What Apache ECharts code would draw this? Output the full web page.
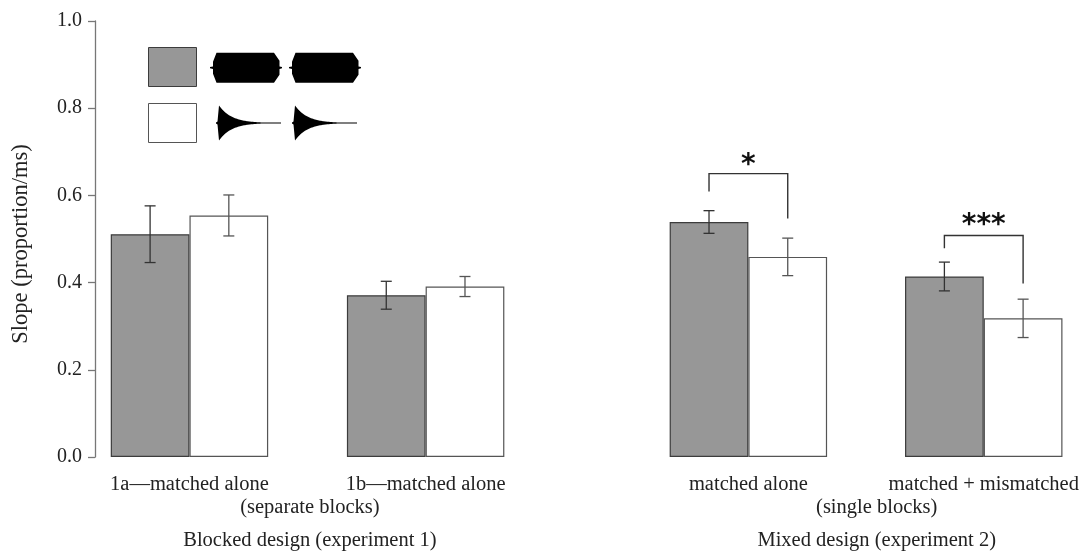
<!DOCTYPE html>
<html><head><meta charset="utf-8">
<script src="https://cdn.jsdelivr.net/npm/echarts@6/dist/echarts.min.js"></script>
<style>html,body{margin:0;padding:0;background:#fff}#c{width:1082px;height:551px}</style>
</head><body><div id="c"></div>
<script>
// ---- data ----
const groups = ['1a\u2014matched alone', '1b\u2014matched alone', 'matched alone', 'matched + mismatched'];
const blockLabels = ['(separate blocks)', '(single blocks)'];
const designLabels = ['Blocked design (experiment 1)', 'Mixed design (experiment 2)'];
const flatMean = [0.511, 0.371, 0.539, 0.414];
const flatErr = [0.065, 0.032, 0.026, 0.033];
const decayMean = [0.554, 0.391, 0.459, 0.318];
const decayErr = [0.047, 0.023, 0.043, 0.044];
const sigGroups = [2, 3];
const sigMarks = ['*', '***'];

// ---- layout ----
const GRID = {left: 95, right: 3, top: 21, bottom: 94};
const XMAX = 12.5;
const groupX = [1.2, 4.2, 8.3, 11.29];
const blockX = [2.73, 9.93];
const sigBracket = [[0.650, 0.609, 0.547], [0.508, 0.479, 0.398]];
const sigStarY = [0.669, 0.531];
const unitPx = (1082 - GRID.left - GRID.right) / XMAX;
const HALF = 0.5;
const SERIF = 'Liberation Serif';
const TXT = '#222';

function labelAxis(values, texts, margin) {
  return {
    type: 'value', min: 0, max: XMAX, position: 'bottom', gridIndex: 0,
    axisLine: {show: false}, axisTick: {show: false}, splitLine: {show: false},
    axisLabel: {
      customValues: values, margin: margin, showMinLabel: true, showMaxLabel: true,
      fontFamily: SERIF, fontSize: 20.5, color: TXT,
      formatter: function (v) {
        const i = values.findIndex(p => Math.abs(p - v) < 1e-6);
        return i >= 0 ? texts[i] : '';
      }
    }
  };
}

function errSeries(mean, err, dx, color) {
  return {
    type: 'custom', xAxisIndex: 0, yAxisIndex: 0, z: 5,
    data: groupX.map((x, i) => [x + dx, mean[i] - err[i], mean[i] + err[i]]),
    encode: {x: 0, y: [1, 2]},
    renderItem: function (params, api) {
      const lo = api.coord([api.value(0), api.value(1)]);
      const hi = api.coord([api.value(0), api.value(2)]);
      const cw = 5.5;
      const st = {stroke: color, lineWidth: 1.3};
      return {type: 'group', children: [
        {type: 'line', shape: {x1: lo[0], y1: lo[1], x2: hi[0], y2: hi[1]}, style: st},
        {type: 'line', shape: {x1: lo[0] - cw, y1: lo[1], x2: lo[0] + cw, y2: lo[1]}, style: st},
        {type: 'line', shape: {x1: hi[0] - cw, y1: hi[1], x2: hi[0] + cw, y2: hi[1]}, style: st}
      ]};
    }
  };
}

// legend waveform glyphs (decoration)
function flatShape(x0, yc) {
  const p = [[0,-0.6],[3,-1.2],[3,-6],[6.5,-15],[64,-15],[69.5,-7],[69.5,-1.2],[72,-0.6],
             [72,0.6],[69.5,1.2],[69.5,7],[64,15],[6.5,15],[3,6],[3,1.2],[0,0.6]];
  return {type: 'polygon', shape: {points: p.map(q => [x0 + q[0], yc + q[1]])},
          style: {fill: '#000'}, silent: true};
}
function decayShape(x0, yc) {
  const top = [[0, -0.6], [1.5, -1.5], [3, -17.5]];
  for (let d = 0; d <= 62; d += 1) {
    const h = Math.max(0.6, 17.5 * Math.exp(-d / 12.5));
    top.push([3 + d, -h]);
  }
  const bot = top.slice().reverse().map(q => [q[0], -q[1]]);
  const pts = top.concat(bot);
  return {type: 'polygon', shape: {points: pts.map(q => [x0 + q[0], yc + q[1]])},
          style: {fill: '#000'}, silent: true};
}

const option = {
  backgroundColor: '#fff',
  animation: false,
  grid: Object.assign({outerBoundsMode: 'none', containLabel: false}, GRID),
  legend: {
    orient: 'vertical', left: 148, top: 47, padding: 0, itemWidth: 48, itemHeight: 39, itemGap: 16,
    icon: 'rect', formatter: function () { return ''; }, selectedMode: false,
    itemStyle: {borderWidth: 1},
    data: ['Flat', 'Decaying']
  },
  xAxis: [
    labelAxis(groupX, groups, 17),
    labelAxis(blockX, blockLabels, 40),
    labelAxis(blockX, designLabels, 73)
  ],
  yAxis: {
    type: 'value', min: 0, max: 1, interval: 0.2,
    name: 'Slope (proportion/ms)', nameLocation: 'middle', nameGap: 62,
    nameTextStyle: {fontFamily: SERIF, fontSize: 22.5, color: TXT, padding: [0, 10, 0, 0]},
    axisLine: {show: true, lineStyle: {color: '#777', width: 1.3}},
    axisTick: {show: true, length: 7, lineStyle: {color: '#777', width: 1.3}},
    splitLine: {show: false},
    axisLabel: {margin: 13, fontFamily: SERIF, fontSize: 20, color: TXT,
                formatter: v => v.toFixed(1)}
  },
  series: [
    {
      name: 'Flat', type: 'bar', xAxisIndex: 0, barWidth: unitPx, barGap: '0%',
      data: groupX.map((x, i) => [x, flatMean[i]]),
      itemStyle: {color: '#979797', borderColor: '#3c3c3c', borderWidth: 1.2}
    },
    {
      name: 'Decaying', type: 'bar', xAxisIndex: 0, barWidth: unitPx, barGap: '0%',
      data: groupX.map((x, i) => [x, decayMean[i]]),
      itemStyle: {color: '#fff', borderColor: '#555', borderWidth: 1.2}
    },
    errSeries(flatMean, flatErr, -HALF, '#333'),
    errSeries(decayMean, decayErr, HALF, '#555'),
    {
      type: 'custom', xAxisIndex: 0, yAxisIndex: 0, z: 6,
      data: sigGroups.map((g, k) => [groupX[g] - HALF, groupX[g] + HALF,
                                     sigBracket[k][0], sigBracket[k][1], sigBracket[k][2], sigStarY[k], k]),
      encode: {x: [0, 1], y: [2, 3, 4, 5]},
      renderItem: function (params, api) {
        const xl = api.value(0), xr = api.value(1);
        const a = api.coord([xl, api.value(3)]);
        const b = api.coord([xl, api.value(2)]);
        const c = api.coord([xr, api.value(2)]);
        const d = api.coord([xr, api.value(4)]);
        const s = api.coord([(xl + xr) / 2, api.value(5)]);
        return {type: 'group', children: [
          {type: 'polyline', shape: {points: [a, b, c, d]},
           style: {stroke: '#333', lineWidth: 1.4, fill: null}},
          {type: 'text', x: s[0], y: s[1],
           style: {text: sigMarks[api.value(6)], align: 'center', verticalAlign: 'middle',
                   font: 'bold 28px "DejaVu Sans"', fill: '#111'}}
        ]};
      }
    }
  ],
  graphic: [
    flatShape(210, 67.7), flatShape(289, 67.7),
    decayShape(216, 123), decayShape(292, 123)
  ]
};

const chart = echarts.init(document.getElementById('c'), null, {renderer: 'canvas'});
chart.setOption(option);
</script>
</body></html>
